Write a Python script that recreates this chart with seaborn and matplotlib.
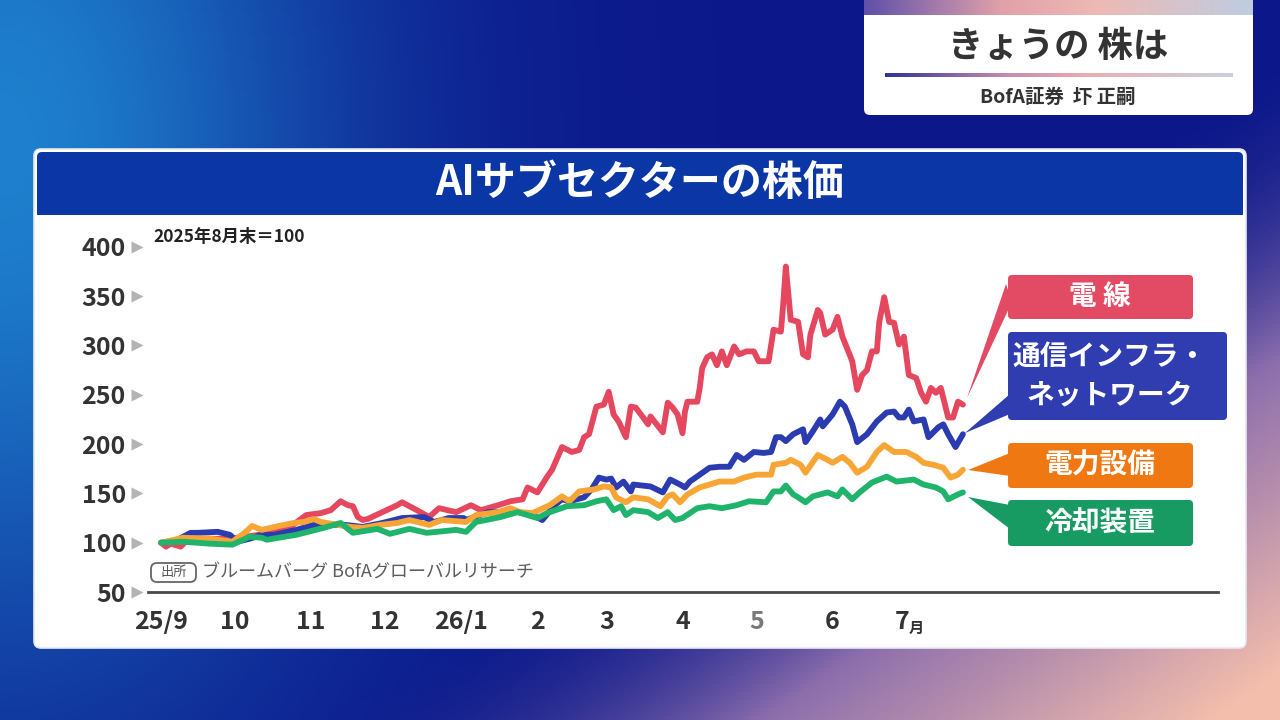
import numpy as np
import pandas as pd
import matplotlib
matplotlib.use("Agg")
import matplotlib.pyplot as plt
import seaborn as sns
from matplotlib.patches import FancyBboxPatch, Rectangle, Polygon

sns.set_theme(style="white")
plt.rcParams["font.family"] = ["Noto Sans CJK JP", "DejaVu Sans"]

# ---------------- data ----------------
BASE_DATE = "2025-09-01"
series_names = ["電線", "通信インフラ・ネットワーク", "電力設備", "冷却装置"]

wire_days = [0, 2, 4, 8, 10, 16, 28, 40, 52, 59, 65, 69, 73, 76, 78, 80, 82, 84, 90, 96,
             98, 104, 109, 113, 120, 126, 130, 137, 142, 147, 149, 153, 157, 159, 163, 167, 170, 172, 174, 177,
             180, 182, 184, 186, 189, 191, 193, 196, 198, 199, 204, 206, 208, 210, 212, 213, 214, 218, 219, 220,
             222, 224, 226, 228, 230, 233, 235, 238, 241, 243, 247, 249, 252, 253, 254, 256, 259, 261, 263, 264,
             267, 268, 270, 273, 275, 277, 281, 283, 285, 287, 289, 291, 292, 294, 296, 298, 300, 302, 304, 307,
             309, 311, 313, 315, 317, 320, 322, 324, 326]
wire_vals = [100, 96, 99, 96, 101, 104, 104, 108, 115, 128, 130, 133, 142, 138, 137, 126, 123, 124, 131, 138,
             141, 133, 126, 135, 131, 138, 133, 138, 142, 144, 156, 151, 167, 174, 197, 192, 194, 207, 210, 238,
             240, 253, 230, 223, 207, 238, 237, 227, 220, 228, 212, 242, 237, 230, 211, 233, 243, 243, 257, 277,
             288, 291, 280, 294, 280, 299, 291, 294, 294, 284, 284, 316, 314, 344, 380, 326, 324, 291, 288, 311,
             336, 333, 311, 316, 329, 309, 284, 255, 270, 275, 294, 294, 324, 349, 324, 323, 301, 309, 270, 267,
             252, 243, 257, 252, 257, 227, 227, 243, 240]

telecom_days = [0, 6, 12, 15, 23, 28, 31, 36, 41, 46, 55, 62, 69, 75, 82, 90, 98, 107, 111, 117,
                123, 124, 133, 145, 151, 155, 160, 163, 166, 172, 175, 178, 181, 183, 185, 188, 191, 192, 199, 204,
                207, 211, 213, 215, 219, 223, 227, 231, 234, 237, 241, 245, 248, 250, 252, 254, 257, 261, 262, 265,
                268, 269, 273, 276, 278, 281, 283, 287, 291, 295, 298, 300, 302, 304, 306, 310, 312, 316, 318, 320,
                323, 326]
telecom_vals = [100, 102, 110, 110, 111, 108, 101, 104, 108, 108, 113, 118, 118, 118, 116, 120, 125, 126, 121, 125,
                125, 123, 131, 131, 128, 123, 138, 144, 142, 146, 154, 166, 164, 165, 156, 162, 152, 159, 157, 151,
                164, 159, 156, 162, 169, 176, 177, 177, 189, 184, 192, 191, 192, 207, 207, 203, 210, 215, 202, 213,
                225, 218, 230, 243, 238, 220, 202, 210, 223, 232, 233, 227, 227, 235, 223, 225, 207, 217, 220, 210,
                197, 210]

power_days = [0, 9, 20, 29, 34, 37, 41, 48, 54, 58, 62, 65, 72, 77, 82, 89, 96, 101, 109, 114,
              124, 128, 137, 142, 146, 151, 158, 163, 166, 170, 176, 180, 183, 185, 189, 192, 198, 203, 206, 208,
              211, 214, 219, 223, 227, 233, 237, 242, 248, 249, 254, 256, 260, 262, 267, 271, 273, 277, 280, 283,
              287, 291, 294, 298, 303, 307, 310, 314, 318, 321, 324, 326]
power_vals = [100, 105, 104, 101, 110, 117, 113, 117, 120, 121, 124, 121, 118, 116, 115, 118, 120, 123, 118, 123,
              121, 128, 131, 135, 131, 130, 138, 147, 142, 152, 154, 157, 156, 146, 141, 146, 144, 137, 147, 149,
              141, 149, 156, 159, 162, 162, 166, 169, 169, 179, 181, 184, 179, 171, 189, 184, 181, 187, 181, 171,
              177, 192, 199, 192, 192, 187, 181, 179, 176, 166, 169, 174]

cooling_days = [0, 9, 20, 29, 36, 41, 43, 55, 66, 73, 78, 88, 93, 101, 108, 120, 124, 128, 138, 145,
                153, 157, 165, 172, 177, 181, 184, 187, 189, 192, 198, 202, 206, 209, 212, 218, 223, 228, 234, 239,
                246, 249, 252, 254, 257, 259, 262, 265, 271, 275, 277, 281, 284, 289, 295, 299, 306, 310, 315, 318,
                320, 324, 326]
cooling_vals = [100, 101, 99, 98, 106, 105, 103, 108, 115, 120, 110, 114, 109, 114, 110, 113, 111, 121, 126, 131,
                125, 130, 137, 138, 142, 144, 133, 137, 128, 133, 131, 125, 131, 123, 125, 135, 137, 135, 138, 142,
                141, 152, 152, 158, 149, 146, 141, 147, 151, 147, 154, 144, 151, 161, 167, 162, 164, 159, 156, 152,
                144, 149, 151]

month_ticks = ["2025-09-01", "2025-10-01", "2025-11-01", "2025-12-01", "2026-01-01", "2026-02-01",
               "2026-03-01", "2026-04-01", "2026-05-01", "2026-06-01", "2026-07-01"]
month_labels = ["25/9", "10", "11", "12", "26/1", "2", "3", "4", "5", "6", "7"]
y_ticks = [50, 100, 150, 200, 250, 300, 350, 400]

line_colors = ["#e5475f", "#2b3bb0", "#f7a535", "#20b36b"]
box_colors = ["#e34a63", "#2f3db0", "#f07812", "#179b62"]

base = pd.Timestamp(BASE_DATE)
frames = []
for name, d, v in [(series_names[0], wire_days, wire_vals),
                   (series_names[1], telecom_days, telecom_vals),
                   (series_names[2], power_days, power_vals),
                   (series_names[3], cooling_days, cooling_vals)]:
    frames.append(pd.DataFrame({"date": base + pd.to_timedelta(d, unit="D"),
                                "value": v, "series": name}))
df = pd.concat(frames, ignore_index=True)

# ---------------- figure ----------------
W, H = 1280, 720
fig = plt.figure(figsize=(12.8, 7.2), dpi=100)

# background (pixel coordinates)
bg = fig.add_axes([0, 0, 1, 1], zorder=0)
bg.set_xlim(0, W)
bg.set_ylim(H, 0)
bg.axis("off")
xx, yy = np.meshgrid(np.linspace(0, 1, 320), np.linspace(0, 1, 180))
navy = np.array([12, 24, 138]) / 255
blue = np.array([30, 128, 206]) / 255
purple = np.array([140, 110, 172]) / 255
peach = np.array([244, 190, 172]) / 255
w_blue = np.clip(np.exp(-(xx / 0.26) ** 2 - ((yy - 0.2) / 0.75) ** 2), 0, 1)[..., None]
t = np.clip((xx * 1.0 + yy * 0.8 - 1.05) / 0.7, 0, 1)[..., None]
img = navy * (1 - w_blue) + blue * w_blue
mid = np.where(t < 0.5, navy + (purple - navy) * (t / 0.5), purple + (peach - purple) * ((t - 0.5) / 0.5))
img = img * (1 - np.clip(t * 2, 0, 1)) + mid * np.clip(t * 2, 0, 1)
bg.imshow(np.clip(img, 0, 1), extent=[0, W, H, 0], aspect="auto", zorder=0)

# chart panel
bg.add_patch(FancyBboxPatch((34, 149), 1212, 499, boxstyle="round,pad=0,rounding_size=7",
                            fc="white", ec="#e6e8f0", lw=1.2, zorder=1))
bg.add_patch(FancyBboxPatch((37, 152), 1206, 62, boxstyle="round,pad=0,rounding_size=5",
                            fc="#0b37a6", ec="none", zorder=2))
bg.add_patch(Rectangle((37, 195), 1206, 20, fc="#0b37a6", ec="none", zorder=2))
bg.text(640, 183, "AIサブセクターの株価", color="white", fontsize=29.5, fontweight="bold",
        ha="center", va="center", zorder=3)

# ---------------- data axes ----------------
ax_left, ax_right = 148, 1218
ax_bottom, ax_top = 592, 237
ax = fig.add_axes([ax_left / W, (H - ax_bottom) / H, (ax_right - ax_left) / W, (ax_bottom - ax_top) / H],
                  zorder=1)
ax.patch.set_visible(False)

sns.lineplot(data=df, x="date", y="value", hue="series", hue_order=series_names,
             palette=line_colors, estimator=None, lw=4.2, legend=False, ax=ax,
             solid_joinstyle="round", solid_capstyle="round")

ax.set_ylim(50, 410)
ax.set_xlim(base - pd.Timedelta(days=5.3), base + pd.Timedelta(days=429.7))
ax.set_xlabel("")
ax.set_ylabel("")
for s in ["top", "right", "left"]:
    ax.spines[s].set_visible(False)
ax.spines["bottom"].set_color("#4a4a4a")
ax.spines["bottom"].set_linewidth(2)

ax.set_yticks(y_ticks)
ax.set_yticklabels([str(v) for v in y_ticks])
ax.tick_params(axis="y", length=0, pad=16, labelsize=18, labelcolor="#333333")
for lab in ax.get_yticklabels():
    lab.set_fontweight("bold")

xt = pd.to_datetime(month_ticks)
ax.set_xticks(xt)
labels = list(month_labels)
labels[-1] = ""
ax.set_xticklabels(labels)
ax.tick_params(axis="x", direction="out", length=6, width=1.5, color="#4a4a4a",
               pad=7, labelsize=18, labelcolor="#333333")
for lab in ax.get_xticklabels():
    lab.set_fontweight("bold")
    if lab.get_text() == "5":
        lab.set_color("#7a7a7a")
# "7月" label
ax.annotate("7", xy=(xt[-1], 0), xycoords=("data", "axes fraction"), xytext=(2, -13),
            textcoords="offset points", ha="right", va="top", fontsize=18, fontweight="bold",
            color="#333333", annotation_clip=False)
ax.annotate("月", xy=(xt[-1], 0), xycoords=("data", "axes fraction"), xytext=(2, -20),
            textcoords="offset points", ha="left", va="top", fontsize=11, fontweight="bold",
            color="#333333", annotation_clip=False)

# grey triangles next to y tick labels
ax.scatter([-(ax_left - 137) / (ax_right - ax_left)] * len(y_ticks), y_ticks, marker=">", s=75,
           color="#b4b4b4", transform=ax.get_yaxis_transform(), clip_on=False, zorder=5, linewidths=0)

# ---------------- overlay (pixel coordinates) ----------------
ov = fig.add_axes([0, 0, 1, 1], zorder=2)
ov.set_xlim(0, W)
ov.set_ylim(H, 0)
ov.axis("off")
ov.patch.set_visible(False)

ov.text(153, 237, "2025年8月末＝100", fontsize=12.5, fontweight="bold", color="#222222",
        ha="left", va="center")

# source note
ov.add_patch(FancyBboxPatch((151, 563), 45, 19, boxstyle="round,pad=0,rounding_size=6",
                            fc="white", ec="#666666", lw=1.3))
ov.text(173.5, 572.5, "出所", fontsize=9.5, color="#555555", ha="center", va="center")
ov.text(202, 572, "ブルームバーグ BofAグローバルリサーチ", fontsize=13, color="#5e5e5e",
        ha="left", va="center")

# series labels with pointers
boxes = [
    (1008, 275, 185, 44, "電 線", 1100, 297),
    (1008, 332, 219, 88, "通信インフラ・\nネットワーク", 1110, 376),
    (1008, 443, 185, 45, "電力設備", 1100, 466),
    (1008, 500, 185, 46, "冷却装置", 1100, 524),
]
pointers = [
    [(967, 398), (1006, 284), (1012, 302)],
    [(965, 433), (1010, 394), (1010, 414)],
    [(968, 470), (1010, 453), (1010, 476)],
    [(968, 497), (1010, 505), (1010, 529)],
]
for (bx, by, bw, bh, txt, tx, ty), pts, col in zip(boxes, pointers, box_colors):
    ov.add_patch(Polygon(pts, closed=True, fc=col, ec="none"))
    ov.add_patch(FancyBboxPatch((bx, by), bw, bh, boxstyle="round,pad=0,rounding_size=4",
                                fc=col, ec="none"))
    ov.text(tx, ty, txt, color="white", fontsize=20, fontweight="bold", ha="center", va="center",
            linespacing=1.45)

# top-right program box
ov.add_patch(FancyBboxPatch((864, -10), 389, 125, boxstyle="round,pad=0,rounding_size=6",
                            fc="white", ec="none", zorder=2))
strip_cols = np.array([[95, 80, 170], [225, 160, 170], [238, 185, 180], [190, 205, 225]]) / 255
sx = np.linspace(0, 1, 200)
strip = np.stack([np.interp(sx, [0, 0.35, 0.6, 1], strip_cols[:, c]) for c in range(3)], axis=-1)
ov.imshow(strip[None, :, :], extent=[864, 1253, 15, 0], aspect="auto", zorder=3)
line_cols = np.array([[50, 50, 150], [200, 140, 175], [235, 175, 180], [200, 210, 222]]) / 255
sep = np.stack([np.interp(sx, [0, 0.35, 0.6, 1], line_cols[:, c]) for c in range(3)], axis=-1)
ov.imshow(sep[None, :, :], extent=[885, 1233, 77, 73], aspect="auto", zorder=3)
ov.text(1058, 47, "きょうの 株は", fontsize=25.5, fontweight="bold", color="#333333",
        ha="center", va="center", zorder=4)
ov.text(1058, 97, "BofA証券  圷 正嗣", fontsize=14, fontweight="bold", color="#333333",
        ha="center", va="center", zorder=4)
ov.set_xlim(0, W)
ov.set_ylim(H, 0)

fig.savefig("out.png", dpi=100)
